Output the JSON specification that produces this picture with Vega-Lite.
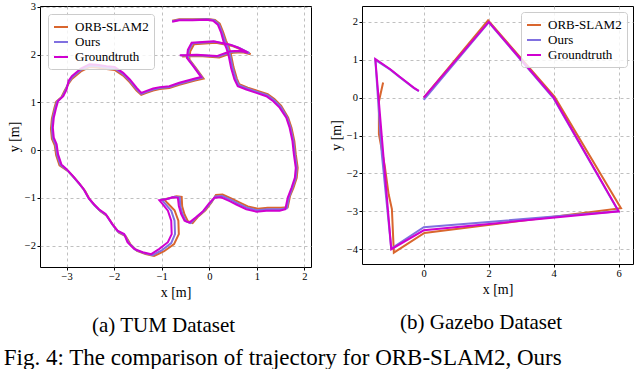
{
"$schema": "https://vega.github.io/schema/vega-lite/v6.json",
"background": "white",
"padding": {"left": 3, "top": 1, "right": 4, "bottom": 0},
"spacing": 16,
"title": {"text": "Fig. 4: The comparison of trajectory for ORB-SLAM2, Ours", "orient": "bottom", "anchor": "start", "fontSize": 23, "offset": 10, "dx": -3},
"config": {
  "font": "Liberation Serif",
  "view": {"stroke": "#000000", "strokeWidth": 1},
  "axis": {"grid": true, "gridColor": "#b0b0b0", "gridDash": [3, 3], "gridWidth": 0.8, "domain": false, "tickColor": "#000000", "tickSize": 3, "labelFont": "Liberation Serif", "labelFontSize": 10.5, "labelColor": "#000000", "titleFont": "Liberation Serif", "titleFontSize": 14, "titleFontWeight": "normal", "titleColor": "#000000", "labelPadding": 1.5, "titlePadding": 3},
  "legend": {"symbolType": "stroke", "symbolSize": 196, "symbolStrokeWidth": 2, "labelFont": "Liberation Serif", "labelFontSize": 13, "labelOffset": 6, "labelColor": "#000000", "rowPadding": 0, "padding": 5, "fillColor": "rgba(255,255,255,0.8)", "strokeColor": "#cccccc", "cornerRadius": 3, "title": null},
  "title": {"font": "Liberation Serif", "fontSize": 21, "fontWeight": "normal", "color": "#000000"}
},
"resolve": {"legend": {"color": "independent"}, "scale": {"color": "independent"}},
"datasets": {
"tum": [
{"series":"ORB-SLAM2","i":1,"x":-0.57,"y":1.96},{"series":"ORB-SLAM2","i":2,"x":-0.21,"y":1.97},{"series":"ORB-SLAM2","i":3,"x":0.21,"y":1.94},{"series":"ORB-SLAM2","i":4,"x":0.49,"y":2.04},{"series":"ORB-SLAM2","i":5,"x":0.70,"y":2.05},{"series":"ORB-SLAM2","i":6,"x":0.87,"y":2.01},{"series":"ORB-SLAM2","i":7,"x":0.65,"y":2.12},{"series":"ORB-SLAM2","i":8,"x":0.49,"y":2.18},{"series":"ORB-SLAM2","i":9,"x":0.14,"y":2.25},{"series":"ORB-SLAM2","i":10,"x":-0.32,"y":2.22},
{"series":"ORB-SLAM2","i":11,"x":-0.40,"y":2.07},{"series":"ORB-SLAM2","i":12,"x":-0.42,"y":1.90},{"series":"ORB-SLAM2","i":13,"x":-0.28,"y":1.72},{"series":"ORB-SLAM2","i":14,"x":-0.12,"y":1.50},{"series":"ORB-SLAM2","i":15,"x":-0.30,"y":1.46},{"series":"ORB-SLAM2","i":16,"x":-0.63,"y":1.37},{"series":"ORB-SLAM2","i":17,"x":-0.84,"y":1.30},{"series":"ORB-SLAM2","i":18,"x":-1.04,"y":1.28},{"series":"ORB-SLAM2","i":19,"x":-1.18,"y":1.25},{"series":"ORB-SLAM2","i":20,"x":-1.32,"y":1.20},
{"series":"ORB-SLAM2","i":21,"x":-1.43,"y":1.16},{"series":"ORB-SLAM2","i":22,"x":-1.53,"y":1.25},{"series":"ORB-SLAM2","i":23,"x":-1.67,"y":1.42},{"series":"ORB-SLAM2","i":24,"x":-1.81,"y":1.56},{"series":"ORB-SLAM2","i":25,"x":-1.99,"y":1.68},{"series":"ORB-SLAM2","i":26,"x":-2.16,"y":1.70},{"series":"ORB-SLAM2","i":27,"x":-2.37,"y":1.73},{"series":"ORB-SLAM2","i":28,"x":-2.52,"y":1.74},{"series":"ORB-SLAM2","i":29,"x":-2.70,"y":1.65},{"series":"ORB-SLAM2","i":30,"x":-2.89,"y":1.49},
{"series":"ORB-SLAM2","i":31,"x":-2.96,"y":1.39},{"series":"ORB-SLAM2","i":32,"x":-3.04,"y":1.25},{"series":"ORB-SLAM2","i":33,"x":-3.11,"y":1.11},{"series":"ORB-SLAM2","i":34,"x":-3.22,"y":1.01},{"series":"ORB-SLAM2","i":35,"x":-3.26,"y":0.87},{"series":"ORB-SLAM2","i":36,"x":-3.31,"y":0.66},{"series":"ORB-SLAM2","i":37,"x":-3.33,"y":0.45},{"series":"ORB-SLAM2","i":38,"x":-3.31,"y":0.24},{"series":"ORB-SLAM2","i":39,"x":-3.25,"y":0.10},{"series":"ORB-SLAM2","i":40,"x":-3.22,"y":-0.11},
{"series":"ORB-SLAM2","i":41,"x":-3.15,"y":-0.32},{"series":"ORB-SLAM2","i":42,"x":-2.97,"y":-0.44},{"series":"ORB-SLAM2","i":43,"x":-2.84,"y":-0.58},{"series":"ORB-SLAM2","i":44,"x":-2.72,"y":-0.72},{"series":"ORB-SLAM2","i":45,"x":-2.61,"y":-0.86},{"series":"ORB-SLAM2","i":46,"x":-2.51,"y":-1.04},{"series":"ORB-SLAM2","i":47,"x":-2.40,"y":-1.17},{"series":"ORB-SLAM2","i":48,"x":-2.29,"y":-1.28},{"series":"ORB-SLAM2","i":49,"x":-2.15,"y":-1.38},{"series":"ORB-SLAM2","i":50,"x":-2.01,"y":-1.59},
{"series":"ORB-SLAM2","i":51,"x":-1.90,"y":-1.73},{"series":"ORB-SLAM2","i":52,"x":-1.76,"y":-1.80},{"series":"ORB-SLAM2","i":53,"x":-1.66,"y":-1.97},{"series":"ORB-SLAM2","i":54,"x":-1.52,"y":-2.11},{"series":"ORB-SLAM2","i":55,"x":-1.34,"y":-2.18},{"series":"ORB-SLAM2","i":56,"x":-1.16,"y":-2.22},{"series":"ORB-SLAM2","i":57,"x":-0.95,"y":-2.12},{"series":"ORB-SLAM2","i":58,"x":-0.74,"y":-1.97},{"series":"ORB-SLAM2","i":59,"x":-0.64,"y":-1.76},{"series":"ORB-SLAM2","i":60,"x":-0.65,"y":-1.48},
{"series":"ORB-SLAM2","i":61,"x":-0.73,"y":-1.26},{"series":"ORB-SLAM2","i":62,"x":-0.88,"y":-1.11},{"series":"ORB-SLAM2","i":63,"x":-0.95,"y":-1.03},{"series":"ORB-SLAM2","i":64,"x":-0.83,"y":-1.01},{"series":"ORB-SLAM2","i":65,"x":-0.69,"y":-0.97},{"series":"ORB-SLAM2","i":66,"x":-0.58,"y":-0.98},{"series":"ORB-SLAM2","i":67,"x":-0.57,"y":-1.18},{"series":"ORB-SLAM2","i":68,"x":-0.52,"y":-1.35},{"series":"ORB-SLAM2","i":69,"x":-0.45,"y":-1.49},{"series":"ORB-SLAM2","i":70,"x":-0.35,"y":-1.53},
{"series":"ORB-SLAM2","i":71,"x":-0.23,"y":-1.39},{"series":"ORB-SLAM2","i":72,"x":-0.08,"y":-1.26},{"series":"ORB-SLAM2","i":73,"x":0.05,"y":-1.09},{"series":"ORB-SLAM2","i":74,"x":0.14,"y":-0.94},{"series":"ORB-SLAM2","i":75,"x":0.28,"y":-0.93},{"series":"ORB-SLAM2","i":76,"x":0.46,"y":-1.01},{"series":"ORB-SLAM2","i":77,"x":0.60,"y":-1.08},{"series":"ORB-SLAM2","i":78,"x":0.81,"y":-1.18},{"series":"ORB-SLAM2","i":79,"x":1.02,"y":-1.23},{"series":"ORB-SLAM2","i":80,"x":1.23,"y":-1.21},
{"series":"ORB-SLAM2","i":81,"x":1.51,"y":-1.21},{"series":"ORB-SLAM2","i":82,"x":1.65,"y":-1.20},{"series":"ORB-SLAM2","i":83,"x":1.70,"y":-0.96},{"series":"ORB-SLAM2","i":84,"x":1.77,"y":-0.79},{"series":"ORB-SLAM2","i":85,"x":1.84,"y":-0.58},{"series":"ORB-SLAM2","i":86,"x":1.86,"y":-0.37},{"series":"ORB-SLAM2","i":87,"x":1.82,"y":-0.09},{"series":"ORB-SLAM2","i":88,"x":1.79,"y":0.19},{"series":"ORB-SLAM2","i":89,"x":1.73,"y":0.47},{"series":"ORB-SLAM2","i":90,"x":1.66,"y":0.68},
{"series":"ORB-SLAM2","i":91,"x":1.51,"y":0.93},{"series":"ORB-SLAM2","i":92,"x":1.37,"y":1.07},{"series":"ORB-SLAM2","i":93,"x":1.23,"y":1.17},{"series":"ORB-SLAM2","i":94,"x":1.02,"y":1.24},{"series":"ORB-SLAM2","i":95,"x":0.81,"y":1.31},{"series":"ORB-SLAM2","i":96,"x":0.63,"y":1.38},{"series":"ORB-SLAM2","i":97,"x":0.58,"y":1.50},{"series":"ORB-SLAM2","i":98,"x":0.51,"y":1.74},{"series":"ORB-SLAM2","i":99,"x":0.46,"y":1.99},{"series":"ORB-SLAM2","i":100,"x":0.41,"y":2.16},
{"series":"ORB-SLAM2","i":101,"x":0.35,"y":2.30},{"series":"ORB-SLAM2","i":102,"x":0.29,"y":2.48},{"series":"ORB-SLAM2","i":103,"x":0.22,"y":2.65},{"series":"ORB-SLAM2","i":104,"x":0.12,"y":2.73},{"series":"ORB-SLAM2","i":105,"x":-0.02,"y":2.75},{"series":"ORB-SLAM2","i":106,"x":-0.35,"y":2.74},{"series":"ORB-SLAM2","i":107,"x":-0.63,"y":2.74},{"series":"ORB-SLAM2","i":108,"x":-0.78,"y":2.71},
{"series":"Ours","i":1,"x":-0.60,"y":1.98},{"series":"Ours","i":2,"x":-0.24,"y":1.99},{"series":"Ours","i":3,"x":0.19,"y":1.96},{"series":"Ours","i":4,"x":0.47,"y":2.06},{"series":"Ours","i":5,"x":0.68,"y":2.07},{"series":"Ours","i":6,"x":0.85,"y":2.03},{"series":"Ours","i":7,"x":0.63,"y":2.14},{"series":"Ours","i":8,"x":0.47,"y":2.20},{"series":"Ours","i":9,"x":0.12,"y":2.27},{"series":"Ours","i":10,"x":-0.35,"y":2.24},
{"series":"Ours","i":11,"x":-0.43,"y":2.09},{"series":"Ours","i":12,"x":-0.45,"y":1.92},{"series":"Ours","i":13,"x":-0.31,"y":1.74},{"series":"Ours","i":14,"x":-0.15,"y":1.52},{"series":"Ours","i":15,"x":-0.30,"y":1.48},{"series":"Ours","i":16,"x":-0.63,"y":1.39},{"series":"Ours","i":17,"x":-0.84,"y":1.32},{"series":"Ours","i":18,"x":-1.04,"y":1.30},{"series":"Ours","i":19,"x":-1.18,"y":1.27},{"series":"Ours","i":20,"x":-1.32,"y":1.22},
{"series":"Ours","i":21,"x":-1.43,"y":1.18},{"series":"Ours","i":22,"x":-1.53,"y":1.28},{"series":"Ours","i":23,"x":-1.67,"y":1.45},{"series":"Ours","i":24,"x":-1.81,"y":1.59},{"series":"Ours","i":25,"x":-1.99,"y":1.71},{"series":"Ours","i":26,"x":-2.16,"y":1.73},{"series":"Ours","i":27,"x":-2.37,"y":1.76},{"series":"Ours","i":28,"x":-2.52,"y":1.77},{"series":"Ours","i":29,"x":-2.70,"y":1.68},{"series":"Ours","i":30,"x":-2.89,"y":1.52},
{"series":"Ours","i":31,"x":-2.96,"y":1.42},{"series":"Ours","i":32,"x":-3.02,"y":1.26},{"series":"Ours","i":33,"x":-3.09,"y":1.12},{"series":"Ours","i":34,"x":-3.20,"y":1.02},{"series":"Ours","i":35,"x":-3.24,"y":0.88},{"series":"Ours","i":36,"x":-3.29,"y":0.67},{"series":"Ours","i":37,"x":-3.31,"y":0.46},{"series":"Ours","i":38,"x":-3.29,"y":0.25},{"series":"Ours","i":39,"x":-3.23,"y":0.11},{"series":"Ours","i":40,"x":-3.20,"y":-0.10},
{"series":"Ours","i":41,"x":-3.13,"y":-0.31},{"series":"Ours","i":42,"x":-2.99,"y":-0.42},{"series":"Ours","i":43,"x":-2.86,"y":-0.56},{"series":"Ours","i":44,"x":-2.74,"y":-0.70},{"series":"Ours","i":45,"x":-2.63,"y":-0.84},{"series":"Ours","i":46,"x":-2.53,"y":-1.02},{"series":"Ours","i":47,"x":-2.42,"y":-1.15},{"series":"Ours","i":48,"x":-2.31,"y":-1.26},{"series":"Ours","i":49,"x":-2.17,"y":-1.36},{"series":"Ours","i":50,"x":-2.03,"y":-1.57},
{"series":"Ours","i":51,"x":-1.92,"y":-1.71},{"series":"Ours","i":52,"x":-1.78,"y":-1.78},{"series":"Ours","i":53,"x":-1.69,"y":-1.95},{"series":"Ours","i":54,"x":-1.55,"y":-2.09},{"series":"Ours","i":55,"x":-1.37,"y":-2.16},{"series":"Ours","i":56,"x":-1.19,"y":-2.20},{"series":"Ours","i":57,"x":-1.00,"y":-2.10},{"series":"Ours","i":58,"x":-0.80,"y":-1.95},{"series":"Ours","i":59,"x":-0.72,"y":-1.76},{"series":"Ours","i":60,"x":-0.73,"y":-1.48},
{"series":"Ours","i":61,"x":-0.80,"y":-1.27},{"series":"Ours","i":62,"x":-0.93,"y":-1.12},{"series":"Ours","i":63,"x":-1.00,"y":-1.04},{"series":"Ours","i":64,"x":-0.87,"y":-1.02},{"series":"Ours","i":65,"x":-0.73,"y":-0.98},{"series":"Ours","i":66,"x":-0.62,"y":-0.99},{"series":"Ours","i":67,"x":-0.61,"y":-1.18},{"series":"Ours","i":68,"x":-0.56,"y":-1.35},{"series":"Ours","i":69,"x":-0.49,"y":-1.49},{"series":"Ours","i":70,"x":-0.39,"y":-1.53},
{"series":"Ours","i":71,"x":-0.26,"y":-1.40},{"series":"Ours","i":72,"x":-0.11,"y":-1.27},{"series":"Ours","i":73,"x":0.03,"y":-1.10},{"series":"Ours","i":74,"x":0.13,"y":-0.97},{"series":"Ours","i":75,"x":0.27,"y":-0.96},{"series":"Ours","i":76,"x":0.45,"y":-1.04},{"series":"Ours","i":77,"x":0.59,"y":-1.11},{"series":"Ours","i":78,"x":0.80,"y":-1.21},{"series":"Ours","i":79,"x":1.01,"y":-1.26},{"series":"Ours","i":80,"x":1.22,"y":-1.24},
{"series":"Ours","i":81,"x":1.50,"y":-1.24},{"series":"Ours","i":82,"x":1.63,"y":-1.22},{"series":"Ours","i":83,"x":1.68,"y":-0.98},{"series":"Ours","i":84,"x":1.75,"y":-0.79},{"series":"Ours","i":85,"x":1.82,"y":-0.58},{"series":"Ours","i":86,"x":1.84,"y":-0.37},{"series":"Ours","i":87,"x":1.80,"y":-0.09},{"series":"Ours","i":88,"x":1.77,"y":0.19},{"series":"Ours","i":89,"x":1.71,"y":0.47},{"series":"Ours","i":90,"x":1.64,"y":0.68},
{"series":"Ours","i":91,"x":1.50,"y":0.91},{"series":"Ours","i":92,"x":1.36,"y":1.05},{"series":"Ours","i":93,"x":1.22,"y":1.15},{"series":"Ours","i":94,"x":1.01,"y":1.22},{"series":"Ours","i":95,"x":0.80,"y":1.29},{"series":"Ours","i":96,"x":0.62,"y":1.36},{"series":"Ours","i":97,"x":0.56,"y":1.49},{"series":"Ours","i":98,"x":0.49,"y":1.73},{"series":"Ours","i":99,"x":0.44,"y":1.98},{"series":"Ours","i":100,"x":0.39,"y":2.15},
{"series":"Ours","i":101,"x":0.33,"y":2.29},{"series":"Ours","i":102,"x":0.27,"y":2.47},{"series":"Ours","i":103,"x":0.20,"y":2.64},{"series":"Ours","i":104,"x":0.10,"y":2.72},{"series":"Ours","i":105,"x":-0.04,"y":2.74},{"series":"Ours","i":106,"x":-0.35,"y":2.73},{"series":"Ours","i":107,"x":-0.63,"y":2.73},{"series":"Ours","i":108,"x":-0.78,"y":2.70},
{"series":"Groundtruth","i":1,"x":-0.62,"y":1.99},{"series":"Groundtruth","i":2,"x":-0.26,"y":2.00},{"series":"Groundtruth","i":3,"x":0.16,"y":1.97},{"series":"Groundtruth","i":4,"x":0.44,"y":2.07},{"series":"Groundtruth","i":5,"x":0.65,"y":2.08},{"series":"Groundtruth","i":6,"x":0.82,"y":2.04},{"series":"Groundtruth","i":7,"x":0.60,"y":2.15},{"series":"Groundtruth","i":8,"x":0.44,"y":2.21},{"series":"Groundtruth","i":9,"x":0.09,"y":2.28},{"series":"Groundtruth","i":10,"x":-0.37,"y":2.25},
{"series":"Groundtruth","i":11,"x":-0.45,"y":2.10},{"series":"Groundtruth","i":12,"x":-0.47,"y":1.93},{"series":"Groundtruth","i":13,"x":-0.33,"y":1.75},{"series":"Groundtruth","i":14,"x":-0.17,"y":1.53},{"series":"Groundtruth","i":15,"x":-0.30,"y":1.50},{"series":"Groundtruth","i":16,"x":-0.63,"y":1.41},{"series":"Groundtruth","i":17,"x":-0.84,"y":1.34},{"series":"Groundtruth","i":18,"x":-1.04,"y":1.32},{"series":"Groundtruth","i":19,"x":-1.18,"y":1.29},{"series":"Groundtruth","i":20,"x":-1.32,"y":1.24},
{"series":"Groundtruth","i":21,"x":-1.43,"y":1.20},{"series":"Groundtruth","i":22,"x":-1.53,"y":1.31},{"series":"Groundtruth","i":23,"x":-1.67,"y":1.48},{"series":"Groundtruth","i":24,"x":-1.81,"y":1.62},{"series":"Groundtruth","i":25,"x":-1.99,"y":1.74},{"series":"Groundtruth","i":26,"x":-2.16,"y":1.76},{"series":"Groundtruth","i":27,"x":-2.37,"y":1.79},{"series":"Groundtruth","i":28,"x":-2.52,"y":1.80},{"series":"Groundtruth","i":29,"x":-2.70,"y":1.71},{"series":"Groundtruth","i":30,"x":-2.89,"y":1.55},
{"series":"Groundtruth","i":31,"x":-2.96,"y":1.45},{"series":"Groundtruth","i":32,"x":-3.00,"y":1.27},{"series":"Groundtruth","i":33,"x":-3.07,"y":1.13},{"series":"Groundtruth","i":34,"x":-3.18,"y":1.03},{"series":"Groundtruth","i":35,"x":-3.22,"y":0.89},{"series":"Groundtruth","i":36,"x":-3.27,"y":0.68},{"series":"Groundtruth","i":37,"x":-3.29,"y":0.47},{"series":"Groundtruth","i":38,"x":-3.27,"y":0.26},{"series":"Groundtruth","i":39,"x":-3.21,"y":0.12},{"series":"Groundtruth","i":40,"x":-3.18,"y":-0.09},
{"series":"Groundtruth","i":41,"x":-3.11,"y":-0.30},{"series":"Groundtruth","i":42,"x":-3.00,"y":-0.40},{"series":"Groundtruth","i":43,"x":-2.87,"y":-0.54},{"series":"Groundtruth","i":44,"x":-2.75,"y":-0.68},{"series":"Groundtruth","i":45,"x":-2.64,"y":-0.82},{"series":"Groundtruth","i":46,"x":-2.54,"y":-1.00},{"series":"Groundtruth","i":47,"x":-2.43,"y":-1.13},{"series":"Groundtruth","i":48,"x":-2.32,"y":-1.24},{"series":"Groundtruth","i":49,"x":-2.18,"y":-1.34},{"series":"Groundtruth","i":50,"x":-2.04,"y":-1.55},
{"series":"Groundtruth","i":51,"x":-1.93,"y":-1.69},{"series":"Groundtruth","i":52,"x":-1.79,"y":-1.76},{"series":"Groundtruth","i":53,"x":-1.72,"y":-1.93},{"series":"Groundtruth","i":54,"x":-1.58,"y":-2.07},{"series":"Groundtruth","i":55,"x":-1.40,"y":-2.14},{"series":"Groundtruth","i":56,"x":-1.22,"y":-2.18},{"series":"Groundtruth","i":57,"x":-1.05,"y":-2.07},{"series":"Groundtruth","i":58,"x":-0.87,"y":-1.93},{"series":"Groundtruth","i":59,"x":-0.79,"y":-1.76},{"series":"Groundtruth","i":60,"x":-0.80,"y":-1.48},
{"series":"Groundtruth","i":61,"x":-0.87,"y":-1.27},{"series":"Groundtruth","i":62,"x":-0.98,"y":-1.13},{"series":"Groundtruth","i":63,"x":-1.05,"y":-1.05},{"series":"Groundtruth","i":64,"x":-0.91,"y":-1.03},{"series":"Groundtruth","i":65,"x":-0.77,"y":-0.99},{"series":"Groundtruth","i":66,"x":-0.66,"y":-1.00},{"series":"Groundtruth","i":67,"x":-0.64,"y":-1.17},{"series":"Groundtruth","i":68,"x":-0.59,"y":-1.34},{"series":"Groundtruth","i":69,"x":-0.52,"y":-1.48},{"series":"Groundtruth","i":70,"x":-0.42,"y":-1.52},
{"series":"Groundtruth","i":71,"x":-0.28,"y":-1.41},{"series":"Groundtruth","i":72,"x":-0.13,"y":-1.28},{"series":"Groundtruth","i":73,"x":0.00,"y":-1.11},{"series":"Groundtruth","i":74,"x":0.11,"y":-1.00},{"series":"Groundtruth","i":75,"x":0.25,"y":-0.99},{"series":"Groundtruth","i":76,"x":0.43,"y":-1.07},{"series":"Groundtruth","i":77,"x":0.57,"y":-1.14},{"series":"Groundtruth","i":78,"x":0.78,"y":-1.24},{"series":"Groundtruth","i":79,"x":0.99,"y":-1.29},{"series":"Groundtruth","i":80,"x":1.20,"y":-1.27},
{"series":"Groundtruth","i":81,"x":1.48,"y":-1.27},{"series":"Groundtruth","i":82,"x":1.60,"y":-1.24},{"series":"Groundtruth","i":83,"x":1.65,"y":-1.00},{"series":"Groundtruth","i":84,"x":1.73,"y":-0.79},{"series":"Groundtruth","i":85,"x":1.80,"y":-0.58},{"series":"Groundtruth","i":86,"x":1.82,"y":-0.37},{"series":"Groundtruth","i":87,"x":1.78,"y":-0.09},{"series":"Groundtruth","i":88,"x":1.75,"y":0.19},{"series":"Groundtruth","i":89,"x":1.69,"y":0.47},{"series":"Groundtruth","i":90,"x":1.62,"y":0.68},
{"series":"Groundtruth","i":91,"x":1.48,"y":0.89},{"series":"Groundtruth","i":92,"x":1.34,"y":1.03},{"series":"Groundtruth","i":93,"x":1.20,"y":1.13},{"series":"Groundtruth","i":94,"x":0.99,"y":1.20},{"series":"Groundtruth","i":95,"x":0.78,"y":1.27},{"series":"Groundtruth","i":96,"x":0.60,"y":1.34},{"series":"Groundtruth","i":97,"x":0.53,"y":1.48},{"series":"Groundtruth","i":98,"x":0.46,"y":1.72},{"series":"Groundtruth","i":99,"x":0.41,"y":1.97},{"series":"Groundtruth","i":100,"x":0.36,"y":2.14},
{"series":"Groundtruth","i":101,"x":0.30,"y":2.28},{"series":"Groundtruth","i":102,"x":0.25,"y":2.46},{"series":"Groundtruth","i":103,"x":0.18,"y":2.63},{"series":"Groundtruth","i":104,"x":0.08,"y":2.71},{"series":"Groundtruth","i":105,"x":-0.06,"y":2.73},{"series":"Groundtruth","i":106,"x":-0.35,"y":2.72},{"series":"Groundtruth","i":107,"x":-0.63,"y":2.72},{"series":"Groundtruth","i":108,"x":-0.78,"y":2.69}
],
"gazebo": [
{"series":"ORB-SLAM2","i":1,"x":0.0,"y":0.0},{"series":"ORB-SLAM2","i":2,"x":1.98,"y":2.04},{"series":"ORB-SLAM2","i":3,"x":4.03,"y":0.02},{"series":"ORB-SLAM2","i":4,"x":6.07,"y":-2.92},{"series":"ORB-SLAM2","i":5,"x":0.02,"y":-3.57},{"series":"ORB-SLAM2","i":6,"x":-0.92,"y":-4.09},{"series":"ORB-SLAM2","i":7,"x":-0.98,"y":-2.94},{"series":"ORB-SLAM2","i":8,"x":-1.08,"y":-2.55},{"series":"ORB-SLAM2","i":9,"x":-1.2,"y":-1.8},{"series":"ORB-SLAM2","i":10,"x":-1.38,"y":-0.96},{"series":"ORB-SLAM2","i":11,"x":-1.38,"y":-0.1},{"series":"ORB-SLAM2","i":12,"x":-1.25,"y":0.4},
{"series":"Ours","i":1,"x":0.0,"y":-0.06},{"series":"Ours","i":2,"x":2.0,"y":1.99},{"series":"Ours","i":3,"x":3.99,"y":-0.01},{"series":"Ours","i":4,"x":5.99,"y":-3.0},{"series":"Ours","i":5,"x":0.0,"y":-3.42},{"series":"Ours","i":6,"x":-1.0,"y":-3.98},{"series":"Ours","i":7,"x":-1.29,"y":-1.49},{"series":"Ours","i":8,"x":-1.49,"y":1.0},{"series":"Ours","i":9,"x":-1.03,"y":0.74},{"series":"Ours","i":10,"x":-0.75,"y":0.55},{"series":"Ours","i":11,"x":-0.51,"y":0.39},{"series":"Ours","i":12,"x":-0.3,"y":0.25},{"series":"Ours","i":13,"x":-0.15,"y":0.17},
{"series":"Groundtruth","i":1,"x":0.0,"y":0.0},{"series":"Groundtruth","i":2,"x":2.0,"y":2.0},{"series":"Groundtruth","i":3,"x":4.0,"y":0.0},{"series":"Groundtruth","i":4,"x":6.0,"y":-3.0},{"series":"Groundtruth","i":5,"x":0.0,"y":-3.5},{"series":"Groundtruth","i":6,"x":-1.0,"y":-4.0},{"series":"Groundtruth","i":7,"x":-1.49,"y":1.02},{"series":"Groundtruth","i":8,"x":-1.03,"y":0.75},{"series":"Groundtruth","i":9,"x":-0.75,"y":0.56},{"series":"Groundtruth","i":10,"x":-0.51,"y":0.4},{"series":"Groundtruth","i":11,"x":-0.3,"y":0.26},{"series":"Groundtruth","i":12,"x":-0.15,"y":0.18}
]
},
"hconcat": [
{
  "width": 271, "height": 261,
  "data": {"name": "tum"},
  "title": {"text": "(a) TUM Dataset", "orient": "bottom", "anchor": "middle", "frame": "group", "offset": 16, "dx": -12},
  "mark": {"type": "line", "strokeWidth": 2, "clip": true},
  "encoding": {
    "x": {"field": "x", "type": "quantitative", "scale": {"domain": [-3.56, 2.14], "nice": false, "zero": false}, "axis": {"values": [-3, -2, -1, 0, 1, 2], "format": "d", "title": "x [m]"}},
    "y": {"field": "y", "type": "quantitative", "scale": {"domain": [-2.45, 3.02], "nice": false, "zero": false}, "axis": {"values": [-2, -1, 0, 1, 2, 3], "format": "d", "title": "y [m]"}},
    "color": {"field": "series", "type": "nominal", "scale": {"domain": ["ORB-SLAM2", "Ours", "Groundtruth"], "range": ["#d9662e", "#8070e0", "#d000d0"]}, "legend": {"orient": "top-left", "offset": 8}},
    "order": {"field": "i", "type": "quantitative"}
  }
},
{
  "width": 271, "height": 258,
  "data": {"name": "gazebo"},
  "title": {"text": "(b) Gazebo Dataset", "orient": "bottom", "anchor": "middle", "frame": "bounds", "offset": 16},
  "mark": {"type": "line", "strokeWidth": 2, "clip": true},
  "encoding": {
    "x": {"field": "x", "type": "quantitative", "scale": {"domain": [-1.9, 6.44], "nice": false, "zero": false}, "axis": {"values": [0, 2, 4, 6], "format": "d", "title": "x [m]"}},
    "y": {"field": "y", "type": "quantitative", "scale": {"domain": [-4.39, 2.42], "nice": false, "zero": false}, "axis": {"values": [-4, -3, -2, -1, 0, 1, 2], "format": "d", "title": "y [m]"}},
    "color": {"field": "series", "type": "nominal", "scale": {"domain": ["ORB-SLAM2", "Ours", "Groundtruth"], "range": ["#d9662e", "#8070e0", "#d000d0"]}, "legend": {"orient": "top-right", "offset": 6}},
    "order": {"field": "i", "type": "quantitative"}
  }
}
]
}
